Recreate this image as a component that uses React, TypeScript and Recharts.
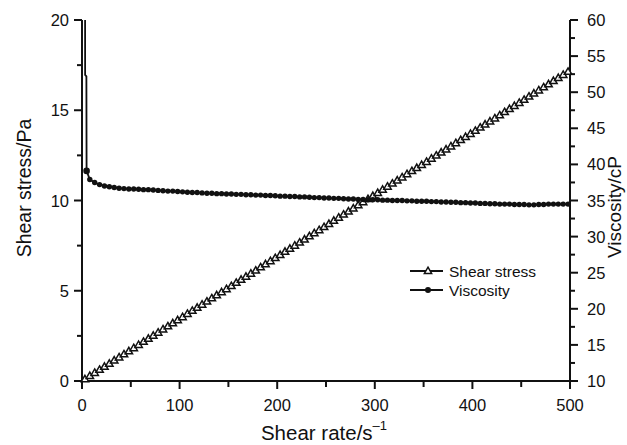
import { LineChart, Line, XAxis, YAxis, Label } from "recharts";

// shear rate (1/s) sampled for the stress sweep
const shearRate = [
  3, 8, 13, 18, 23, 28, 33, 38, 43, 48, 53, 58, 63, 68, 73, 78, 83, 88, 93, 98,
  103, 108, 113, 118, 123, 128, 133, 138, 143, 148, 153, 158, 163, 168, 173, 178, 183, 188, 193, 198,
  203, 208, 213, 218, 223, 228, 233, 238, 243, 248, 253, 258, 263, 268, 273, 278, 283, 288, 293, 298,
  303, 308, 313, 318, 323, 328, 333, 338, 343, 348, 353, 358, 363, 368, 373, 378, 383, 388, 393, 398,
  403, 408, 413, 418, 423, 428, 433, 438, 443, 448, 453, 458, 463, 468, 473, 478, 483, 488, 493, 498,
];

// shear stress (Pa)
const shearStress = [
  0.1, 0.28, 0.45, 0.62, 0.79, 0.96, 1.14, 1.31, 1.48, 1.65, 1.82, 2.0, 2.17, 2.34, 2.51, 2.68, 2.86, 3.03, 3.2, 3.37,
  3.54, 3.72, 3.89, 4.06, 4.23, 4.4, 4.58, 4.75, 4.92, 5.09, 5.26, 5.44, 5.61, 5.78, 5.95, 6.12, 6.3, 6.47, 6.64, 6.81,
  6.98, 7.16, 7.33, 7.5, 7.67, 7.84, 8.02, 8.19, 8.36, 8.53, 8.7, 8.88, 9.05, 9.22, 9.39, 9.56, 9.74, 9.91, 10.08, 10.25,
  10.42, 10.6, 10.77, 10.94, 11.11, 11.28, 11.46, 11.63, 11.8, 11.97, 12.14, 12.32, 12.49, 12.66, 12.83, 13.0, 13.18, 13.35, 13.52, 13.69,
  13.86, 14.04, 14.21, 14.38, 14.55, 14.72, 14.9, 15.07, 15.24, 15.41, 15.58, 15.76, 15.93, 16.1, 16.27, 16.44, 16.62, 16.79, 16.96, 17.13,
];

// viscosity run: a start-up spike (drawn as line only), then the regular sampling
const viscRate = [
  3.0, 3.2, 4.5, 4.7,
  8, 13, 18, 23, 28, 33, 38, 43, 48, 53, 58, 63, 68, 73, 78, 83, 88, 93, 98,
  103, 108, 113, 118, 123, 128, 133, 138, 143, 148, 153, 158, 163, 168, 173, 178, 183, 188, 193, 198,
  203, 208, 213, 218, 223, 228, 233, 238, 243, 248, 253, 258, 263, 268, 273, 278, 283, 288, 293, 298,
  303, 308, 313, 318, 323, 328, 333, 338, 343, 348, 353, 358, 363, 368, 373, 378, 383, 388, 393, 398,
  403, 408, 413, 418, 423, 428, 433, 438, 443, 448, 453, 458, 463, 468, 473, 478, 483, 488, 493, 498,
];

// viscosity (cP)
const viscosity = [
  95, 52.4, 52.2, 39.1,
  37.9, 37.5, 37.2, 37.0, 36.9, 36.8, 36.7, 36.65, 36.6, 36.6, 36.55, 36.5, 36.5, 36.45, 36.4, 36.35, 36.3, 36.3, 36.25,
  36.2, 36.15, 36.1, 36.1, 36.05, 36.0, 36.0, 35.95, 35.95, 35.9, 35.9, 35.85, 35.85, 35.8, 35.8, 35.75, 35.75, 35.7, 35.7, 35.65,
  35.6, 35.6, 35.55, 35.55, 35.5, 35.5, 35.45, 35.4, 35.4, 35.35, 35.35, 35.3, 35.3, 35.25, 35.2, 35.2, 35.15, 35.15, 35.1, 35.1,
  35.1, 35.05, 35.05, 35.0, 35.0, 35.0, 34.95, 34.95, 34.9, 34.9, 34.9, 34.85, 34.85, 34.8, 34.8, 34.75, 34.75, 34.7, 34.7, 34.65,
  34.65, 34.6, 34.6, 34.55, 34.55, 34.5, 34.5, 34.5, 34.45, 34.45, 34.45, 34.4, 34.4, 34.45, 34.45, 34.5, 34.5, 34.5, 34.5, 34.5,
];
const SPIKE_POINTS = 3; // leading points without markers

const rateTicks = [0, 50, 100, 150, 200, 250, 300, 350, 400, 450, 500];
const stressTicks = [0, 2.5, 5, 7.5, 10, 12.5, 15, 17.5, 20];
const viscTicks = [10, 12.5, 15, 17.5, 20, 22.5, 25, 27.5, 30, 32.5, 35, 37.5, 40, 42.5, 45, 47.5, 50, 52.5, 55, 57.5, 60];

const stressData = shearRate.map((x, i) => ({ x, y: shearStress[i] }));
const viscData = viscRate.map((x, i) => ({ x, y: viscosity[i] }));

const W = 627;
const H = 445;
const FONT = "'Liberation Sans', Arial, Helvetica, sans-serif";
const INK = "#111";
const TICK_FONT = 16.5;

const BottomTick = (props: any) => {
  const { x, y, payload } = props;
  const major = payload.value % 100 === 0;
  return (
    <g>
      <line x1={x} y1={y} x2={x} y2={y + (major ? 8 : 6)} stroke={INK} strokeWidth={2} />
      {major && (
        <text x={x} y={y + 30} textAnchor="middle" fontSize={TICK_FONT} fill={INK} fontFamily={FONT}>
          {payload.value}
        </text>
      )}
    </g>
  );
};

// frame on top: short inward ticks, no labels
const TopTick = (props: any) => {
  const { x, y, payload } = props;
  const major = payload.value % 100 === 0;
  if (payload.value === 0 || payload.value === 500) return <g />;
  return <line x1={x} y1={y} x2={x} y2={y + (major ? 5 : 2.5)} stroke={INK} strokeWidth={2} />;
};

const LeftTick = (props: any) => {
  const { x, y, payload } = props;
  const major = payload.value % 5 === 0;
  return (
    <g>
      <line x1={x} y1={y} x2={x - (major ? 8 : 5)} y2={y} stroke={INK} strokeWidth={2} />
      {major && (
        <text x={x - 13} y={y + 6} textAnchor="end" fontSize={TICK_FONT} fill={INK} fontFamily={FONT}>
          {payload.value}
        </text>
      )}
    </g>
  );
};

const RightTick = (props: any) => {
  const { x, y, payload } = props;
  const major = payload.value % 5 === 0;
  return (
    <g>
      <line x1={x} y1={y} x2={x + (major ? 8 : 5)} y2={y} stroke={INK} strokeWidth={2} />
      {major && (
        <text x={x + 17} y={y + 6} textAnchor="start" fontSize={TICK_FONT} fill={INK} fontFamily={FONT}>
          {payload.value}
        </text>
      )}
    </g>
  );
};

const triPath = (cx: number, cy: number, s: number) =>
  `M${cx},${cy - s} L${cx + s * 0.95},${cy + s * 0.65} L${cx - s * 0.95},${cy + s * 0.65} Z`;

const TriangleDot = (props: any) => {
  const { cx, cy, index } = props;
  if (cx == null || cy == null) return <g key={`t${index}`} />;
  return <path key={`t${index}`} d={triPath(cx, cy, 3.9)} fill="#fff" stroke={INK} strokeWidth={1.5} />;
};

const RoundDot = (props: any) => {
  const { cx, cy, index } = props;
  if (cx == null || cy == null || index < SPIKE_POINTS) return <g key={`v${index}`} />;
  const r = index === SPIKE_POINTS ? 3.3 : 2.7;
  return <circle key={`v${index}`} cx={cx} cy={cy} r={r} fill={INK} />;
};

export default function App() {
  return (
    <div style={{ position: "absolute", left: 0, top: 0, width: W, height: H, background: "#fff", fontFamily: FONT }}>
      <LineChart width={W} height={H} margin={{ top: 20, right: 0, bottom: 0, left: 0 }}>
        <XAxis
          xAxisId="rate"
          dataKey="x"
          type="number"
          domain={[0, 500]}
          ticks={rateTicks}
          interval={0}
          height={64}
          tickSize={0}
          tickMargin={0}
          tickLine={false}
          axisLine={{ stroke: INK, strokeWidth: 2 }}
          tick={<BottomTick />}
        >
          <Label
            content={() => (
              <text x={324} y={440} textAnchor="middle" fontSize={20.5} fill={INK} fontFamily={FONT}>
                Shear rate/s
                <tspan fontSize={13} dy={-10}>–1</tspan>
              </text>
            )}
          />
        </XAxis>
        <XAxis
          xAxisId="frame"
          orientation="top"
          dataKey="x"
          type="number"
          domain={[0, 500]}
          ticks={rateTicks}
          interval={0}
          height={0}
          tickSize={0}
          tickMargin={0}
          tickLine={false}
          axisLine={{ stroke: INK, strokeWidth: 2 }}
          tick={<TopTick />}
        />
        <YAxis
          yAxisId="stress"
          orientation="left"
          type="number"
          domain={[0, 20]}
          ticks={stressTicks}
          interval={0}
          width={82}
          tickSize={0}
          tickMargin={0}
          tickLine={false}
          axisLine={{ stroke: INK, strokeWidth: 2 }}
          tick={<LeftTick />}
        >
          <Label
            content={() => (
              <text
                transform="translate(31,188) rotate(-90)"
                textAnchor="middle"
                fontSize={19.5}
                fill={INK}
                fontFamily={FONT}
              >
                Shear stress/Pa
              </text>
            )}
          />
        </YAxis>
        <YAxis
          yAxisId="visc"
          orientation="right"
          type="number"
          domain={[10, 60]}
          allowDataOverflow
          ticks={viscTicks}
          interval={0}
          width={57}
          tickSize={0}
          tickMargin={0}
          tickLine={false}
          axisLine={{ stroke: INK, strokeWidth: 2 }}
          tick={<RightTick />}
        >
          <Label
            content={() => (
              <text
                transform="translate(621,207) rotate(-90)"
                textAnchor="middle"
                fontSize={19}
                fill={INK}
                fontFamily={FONT}
              >
                Viscosity/cP
              </text>
            )}
          />
        </YAxis>

        <Line
          xAxisId="rate"
          yAxisId="stress"
          data={stressData}
          dataKey="y"
          name="Shear stress"
          type="linear"
          stroke={INK}
          strokeWidth={1.5}
          dot={<TriangleDot />}
          activeDot={false}
          isAnimationActive={false}
        />
        <Line
          xAxisId="rate"
          yAxisId="visc"
          data={viscData}
          dataKey="y"
          name="Viscosity"
          type="linear"
          stroke={INK}
          strokeWidth={1.8}
          dot={<RoundDot />}
          activeDot={false}
          isAnimationActive={false}
        />
      </LineChart>

      {/* legend */}
      <svg
        width={W}
        height={H}
        style={{ position: "absolute", left: 0, top: 0, pointerEvents: "none" }}
      >
        <line x1={410} y1={271} x2={443} y2={271} stroke={INK} strokeWidth={1.8} />
        <path d={triPath(428, 271, 3.8)} fill="#fff" stroke={INK} strokeWidth={1.5} />
        <text x={449} y={276.5} fontSize={15.5} fill={INK} fontFamily={FONT}>
          Shear stress
        </text>
        <line x1={410} y1={290} x2={443} y2={290} stroke={INK} strokeWidth={1.8} />
        <circle cx={428} cy={290} r={3} fill={INK} />
        <text x={449} y={295.5} fontSize={15.5} fill={INK} fontFamily={FONT}>
          Viscosity
        </text>
      </svg>
    </div>
  );
}
